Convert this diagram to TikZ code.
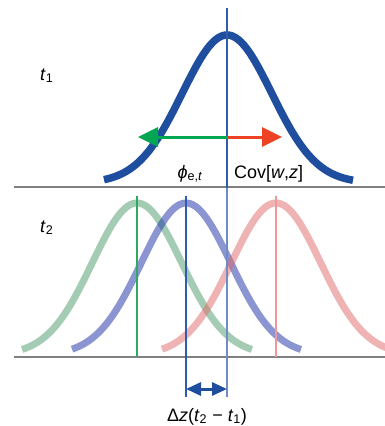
\documentclass[tikz,border=0pt]{standalone}
\usepackage{fontspec}
\setmainfont{Liberation Sans}
\usetikzlibrary{arrows.meta}
\definecolor{darkblue}{HTML}{1F4E9E}
\definecolor{lineblue}{HTML}{2F5CB0}
\definecolor{palelineblue}{HTML}{6F8CC4}
\definecolor{curvegreen}{HTML}{4B9B6B}
\definecolor{curveblue}{HTML}{192DA5}
\definecolor{curvered}{HTML}{E16969}
\definecolor{arrgreen}{HTML}{00A651}
\definecolor{arrred}{HTML}{EF4123}
\definecolor{axisgray}{HTML}{808080}
\definecolor{linegreen}{HTML}{2FA860}
\definecolor{linered}{HTML}{F09898}
\tikzset{
  axisline/.style={draw=axisgray, line width=1.5pt},
  guide/.style={line width=1.1pt},
  bell/.style={line width=7pt},
  lbl/.style={font=\fontsize{18}{20}\selectfont, inner sep=0pt},
  bigarrow/.style={line width=3pt, -{Triangle[length=20pt,width=19pt]}},
}
\newcommand{\gauss}[4]{% center, baseline, amplitude, domain
  plot[domain=#4, samples=90, smooth] ({#1+\x},{#2-#3*exp(-0.5*(\x/44.7)*(\x/44.7))})}
\begin{document}
\begin{tikzpicture}[x=1pt,y=-1pt]
\clip (0,0) rectangle (385,426);
\fill[white] (0,0) rectangle (385,426);
% axes
\coordinate (a1l) at (14,187); \coordinate (a1r) at (385,187);
\coordinate (a2l) at (14,357); \coordinate (a2r) at (385,357);
\draw[axisline] (a1l) -- (a1r);
\draw[axisline] (a2l) -- (a2r);
% top curve
\draw[draw=darkblue, line width=7.5pt] \gauss{227}{183}{148}{-123:126};
% bottom curves
\begin{scope}[opacity=0.5]
\draw[bell, draw=curvegreen] \gauss{137}{355}{152}{-115:115};
\end{scope}
\begin{scope}[opacity=0.5]
\draw[bell, draw=curveblue] \gauss{186}{355}{152}{-114:115};
\end{scope}
\begin{scope}[opacity=0.5]
\draw[bell, draw=curvered] \gauss{276}{355}{152}{-114:116};
\end{scope}
% vertical guides
\coordinate (mtop) at (227,8); \coordinate (mmid) at (227,188); \coordinate (mbot) at (227,397);
\coordinate (btop) at (186,196); \coordinate (bbot) at (186,397);
\coordinate (gtop) at (137,196); \coordinate (gbot) at (137,357);
\coordinate (rtop) at (276,196); \coordinate (rbot) at (276,357);
\begin{scope}
\draw[guide, draw=linegreen] (gtop) -- (gbot);
\end{scope}
\begin{scope}
\draw[guide, draw=linered] (rtop) -- (rbot);
\end{scope}
\begin{scope}
\draw[guide, draw=lineblue] (btop) -- (bbot);
\draw[guide, draw=lineblue] (mtop) -- (mmid);
\draw[guide, draw=palelineblue] (mmid) -- (mbot);
\end{scope}
% top arrows
\coordinate (c1) at (227,137);
\coordinate (gtip) at (138,137);
\coordinate (rtip) at (282,137);
\draw[bigarrow, draw=arrgreen, fill=arrgreen] (c1) -- (gtip);
\draw[bigarrow, draw=arrred, fill=arrred] (c1) -- (rtip);
% bottom double arrow
\coordinate (dl) at (186,389);
\coordinate (dr) at (227,389);
\draw[draw=darkblue, fill=darkblue, line width=3pt, {Triangle[length=15pt,width=13pt]}-{Triangle[length=15pt,width=13pt]}] (dl) -- (dr);
% labels
\node[lbl, anchor=base west] (t1) at (40,80) {\textit{t}\textsubscript{1}};
\node[lbl, anchor=base west] (t2) at (40,232) {\textit{t}\textsubscript{2}};
\node[lbl, anchor=base] (phi) at (190,178) {\textit{ϕ}\textsubscript{e,\textit{t}}};
\node[lbl, anchor=base west] (cov) at (234,178) {Cov[\textit{w},\textit{z}]};
\node[lbl, anchor=base] (dz) at (207,421) {Δ\textit{z}(\textit{t}\textsubscript{2} − \textit{t}\textsubscript{1})};
\end{tikzpicture}
\end{document}
